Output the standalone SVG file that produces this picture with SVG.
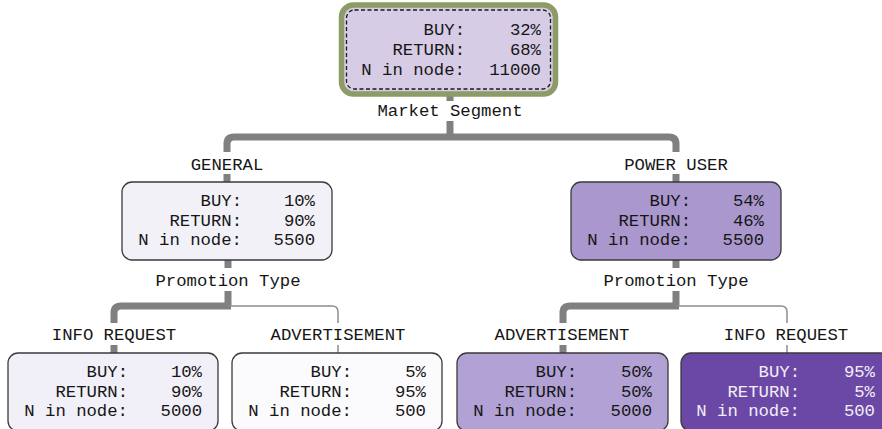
<svg xmlns="http://www.w3.org/2000/svg" width="882" height="429" viewBox="0 0 882 429">
  <style>
    .t { font-family: "Courier New", "Liberation Mono", "DejaVu Sans Mono", monospace; font-size: 17.3px; fill: #161616; }
    .c { text-anchor: middle; }
    .e { text-anchor: end; }
    .w { fill: #f2eef8; }
    .box { stroke: #3a3a3a; stroke-width: 1.3; }
    .thick { fill: none; stroke: #808080; stroke-width: 7; }
    .thin { fill: none; stroke: #8c8c8c; stroke-width: 1.5; }
  </style>
  <rect width="882" height="429" fill="#ffffff"/>

  <!-- connectors -->
  <g id="connectors">
    <!-- root split -->
    <path class="thick" d="M450,94 V101"/>
    <path class="thick" d="M450,121 V137"/>
    <path class="thick" d="M450,137 H234 Q227,137 227,144 V152"/>
    <path class="thick" d="M450,137 H669 Q676,137 676,144 V152"/>
    <path class="thick" d="M227,174 V183"/>
    <path class="thick" d="M676,174 V183"/>
    <!-- general split -->
    <path class="thick" d="M228,260 V268"/>
    <path class="thick" d="M228,291 V306"/>
    <path class="thick" d="M231,306 H121 Q114,306 114,313 V323"/>
    <path class="thin" d="M228,306 H332 Q338,306 338,312 V323"/>
    <path class="thick" d="M114,345 V354"/>
    <path class="thin" d="M338,345 V354"/>
    <!-- power user split -->
    <path class="thick" d="M676,260 V268"/>
    <path class="thick" d="M676,291 V306"/>
    <path class="thick" d="M679,306 H570 Q563,306 563,313 V323"/>
    <path class="thin" d="M676,306 H781 Q787,306 787,312 V323"/>
    <path class="thick" d="M563,345 V354"/>
    <path class="thin" d="M787,345 V354"/>
  </g>

  <!-- split labels -->
  <g id="labels">
    <text class="t c" x="450" y="116">Market Segment</text>
    <text class="t c" x="227" y="170">GENERAL</text>
    <text class="t c" x="676" y="170">POWER USER</text>
    <text class="t c" x="228" y="286">Promotion Type</text>
    <text class="t c" x="676" y="286">Promotion Type</text>
    <text class="t c" x="114" y="340">INFO REQUEST</text>
    <text class="t c" x="338" y="340">ADVERTISEMENT</text>
    <text class="t c" x="562" y="340">ADVERTISEMENT</text>
    <text class="t c" x="786" y="340">INFO REQUEST</text>
  </g>

  <!-- root node -->
  <g id="node-root">
    <rect x="341.5" y="5" width="214" height="89" rx="12" fill="#d6cce6" stroke="#8d9b66" stroke-width="5.5"/>
    <rect x="346.5" y="10" width="204" height="79" rx="8" fill="none" stroke="#1a1a1a" stroke-width="1.3" stroke-dasharray="4 2.5"/>
    <text class="t e" x="465" y="35">BUY:</text><text class="t e" x="541" y="35">32%</text>
    <text class="t e" x="465" y="55">RETURN:</text><text class="t e" x="541" y="55">68%</text>
    <text class="t e" x="465" y="74.5">N in node:</text><text class="t e" x="541" y="74.5">11000</text>
  </g>

  <!-- GENERAL -->
  <g id="node-general">
    <rect class="box" x="122" y="182" width="210" height="78" rx="10" fill="#f3f1f8"/>
    <text class="t e" x="242" y="206">BUY:</text><text class="t e" x="315" y="206">10%</text>
    <text class="t e" x="242" y="226">RETURN:</text><text class="t e" x="315" y="226">90%</text>
    <text class="t e" x="242" y="245">N in node:</text><text class="t e" x="315" y="245">5500</text>
  </g>

  <!-- POWER USER -->
  <g id="node-power">
    <rect class="box" x="571" y="182" width="210" height="78" rx="10" fill="#aa97ce"/>
    <text class="t e" x="691" y="206">BUY:</text><text class="t e" x="764" y="206">54%</text>
    <text class="t e" x="691" y="226">RETURN:</text><text class="t e" x="764" y="226">46%</text>
    <text class="t e" x="691" y="245">N in node:</text><text class="t e" x="764" y="245">5500</text>
  </g>

  <!-- GENERAL / INFO REQUEST -->
  <g id="node-general-info">
    <rect class="box" x="8" y="353" width="210" height="78" rx="10" fill="#f1eff7"/>
    <text class="t e" x="128" y="377">BUY:</text><text class="t e" x="202" y="377">10%</text>
    <text class="t e" x="128" y="397">RETURN:</text><text class="t e" x="202" y="397">90%</text>
    <text class="t e" x="128" y="416">N in node:</text><text class="t e" x="202" y="416">5000</text>
  </g>

  <!-- GENERAL / ADVERTISEMENT -->
  <g id="node-general-ad">
    <rect class="box" x="232" y="353" width="210" height="78" rx="10" fill="#fbfafd"/>
    <text class="t e" x="352" y="377">BUY:</text><text class="t e" x="426" y="377">5%</text>
    <text class="t e" x="352" y="397">RETURN:</text><text class="t e" x="426" y="397">95%</text>
    <text class="t e" x="352" y="416">N in node:</text><text class="t e" x="426" y="416">500</text>
  </g>

  <!-- POWER USER / ADVERTISEMENT -->
  <g id="node-power-ad">
    <rect class="box" x="457" y="353" width="211" height="78" rx="10" fill="#b2a1d4"/>
    <text class="t e" x="577" y="377">BUY:</text><text class="t e" x="652" y="377">50%</text>
    <text class="t e" x="577" y="397">RETURN:</text><text class="t e" x="652" y="397">50%</text>
    <text class="t e" x="577" y="416">N in node:</text><text class="t e" x="652" y="416">5000</text>
  </g>

  <!-- POWER USER / INFO REQUEST -->
  <g id="node-power-info">
    <rect class="box" x="681" y="353" width="210" height="78" rx="10" fill="#6b48a5"/>
    <text class="t e w" x="800" y="377">BUY:</text><text class="t e w" x="875" y="377">95%</text>
    <text class="t e w" x="800" y="397">RETURN:</text><text class="t e w" x="875" y="397">5%</text>
    <text class="t e w" x="800" y="416">N in node:</text><text class="t e w" x="875" y="416">500</text>
  </g>
</svg>
